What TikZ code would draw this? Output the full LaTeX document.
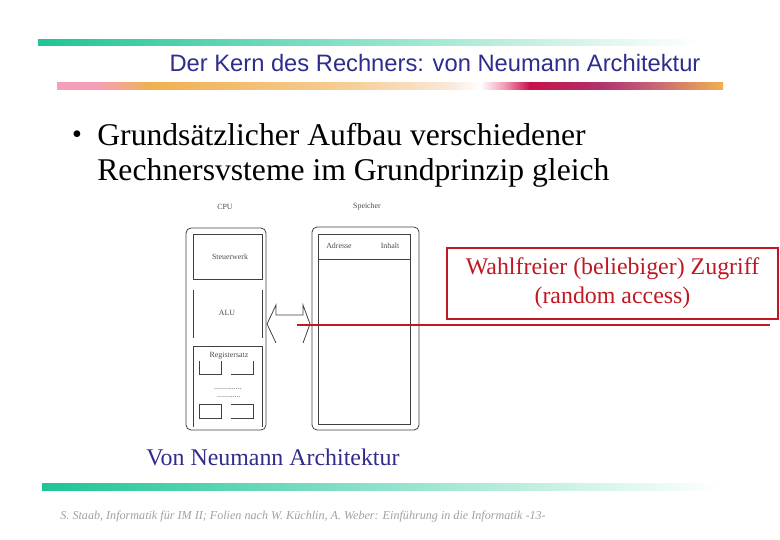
\documentclass[tikz,border=0pt]{standalone}
\usepackage{fontspec}
\setmainfont{Liberation Serif}
\newfontfamily\arialfont{Liberation Sans}
\usepackage{xcolor}
\usepackage{tikz}

\definecolor{titleblue}{RGB}{46,44,140}
\definecolor{barGreen}{RGB}{30,197,150}
\definecolor{barPink}{RGB}{244,160,184}
\definecolor{barOrange}{RGB}{240,176,80}
\definecolor{barOrangeLight}{RGB}{246,206,150}
\definecolor{barPeach}{RGB}{250,232,218}
\definecolor{barCrimson}{RGB}{200,16,74}
\definecolor{barPlum}{RGB}{176,50,110}
\definecolor{barMauve}{RGB}{196,96,120}
\definecolor{slideRed}{RGB}{192,24,34}
\definecolor{footGray}{RGB}{160,160,160}

\pgfdeclarehorizontalshading{greenbar}{100bp}{color(0bp)=(barGreen); color(25bp)=(barGreen);
  color(75bp)=(white); color(100bp)=(white)}
\pgfdeclarehorizontalshading{pinkbar}{100bp}{color(0bp)=(barPink); color(25bp)=(barPink);
  color(28bp)=(barPink); color(32bp)=(barOrange); color(47bp)=(barOrangeLight);
  color(54.5bp)=(barPeach); color(56.75bp)=(white); color(58.5bp)=(barPink);
  color(60.5bp)=(barCrimson); color(65.75bp)=(barPlum); color(69.5bp)=(barMauve);
  color(75bp)=(barOrange); color(100bp)=(barOrange)}

\begin{document}
\begin{tikzpicture}[x=0.02cm,y=-0.02cm,line width=0.45pt,
    font=\fontsize{13.6}{16.4}\selectfont]
\tikzstyle{unit}=[draw=black!75,rounded corners=0.1cm,inner sep=0pt]
\tikzstyle{part}=[draw=black!75,inner sep=0pt]
\tikzstyle{tiny}=[font=\fontsize{4.5}{5}\selectfont,text=black!70,inner sep=0pt]
\tikzstyle{wire}=[draw=black!75]

\useasboundingbox (0,0) rectangle (780,540);

% header and footer bars
\shade[shading=greenbar] (38,40) rectangle (700,46);
\shade[shading=pinkbar] (57,83) rectangle (723,90);
\shade[shading=greenbar] (42,483) rectangle (720,490);

\node (title) at (435,63) {\arialfont\fontsize{13.5}{16}\selectfont\color{titleblue}Der Kern des Rechners: von Neumann Architektur};

\node[inner sep=0pt] (bullet) at (77,137) {\fontsize{16}{18}\selectfont •};
\node[anchor=west,inner sep=0pt] (line1) at (97,135) {\fontsize{18}{22}\selectfont Grundsätzlicher Aufbau verschiedener};
\node[anchor=west,inner sep=0pt] (line2) at (97,173) {\fontsize{18}{22}\selectfont Rechnersvsteme im Grundprinzip gleich};

% CPU
\node[unit,minimum width=1.6cm,minimum height=4.04cm] (cpu) at (226,329) {};
\node[tiny] (cpulbl) at (225,207) {CPU};
\node[part,minimum width=1.38cm,minimum height=0.9cm] (steuer) at (227.5,256.5) {};
\node[tiny] (steuerlbl) at (230,257) {Steuerwerk};
\draw[wire] (193,290) -- (193,338);
\draw[wire] (262,290) -- (262,338);
\node[tiny] (alu) at (227,313) {ALU};
\draw[wire] (193,427) -- (193,346) -- (262,346) -- (262,427);
\node[tiny] (reglbl) at (229,356) {Registersatz};
\draw[wire] (199,361) -- (199,374) -- (221,374) -- (221,361);
\draw[wire] (231,374) -- (253,374) -- (253,361);
\node[tiny] (dots1) at (228,389) {..............};
\node[tiny] (dots2) at (229,397) {............};
\draw[wire] (199,404) rectangle (221,418);
\draw[wire] (231,404) -- (253,404) -- (253,418) -- (231,418);

% Speicher
\node[unit,minimum width=2.14cm,minimum height=4.06cm] (mem) at (365.5,328.5) {};
\node[tiny] (memlbl) at (367,207) {Speicher};
\draw[wire] (318,424) -- (318,234) -- (410,234) -- (410,424) -- cycle;
\draw[wire] (318,259) -- (410,259);
\node[tiny] (adr) at (339,246) {Adresse};
\node[tiny] (inh) at (390,246) {Inhalt};

% bus arrow
\coordinate (ltip) at (267,324);
\coordinate (rtip) at (310,324);
\draw[wire] (276,343) -- (ltip) -- (276,305) -- (276,315) -- (303,315) -- (303,305) -- (rtip) -- (303,343);

% random access
\node[draw=slideRed,text=slideRed,line width=0.7pt,minimum width=6.62cm,minimum height=1.42cm,align=center] (zugriff)
    at (612.5,283.5) {Wahlfreier (beliebiger) Zugriff\\(random access)};
\coordinate (rl) at (297,325);
\coordinate (rr) at (770,325);
\draw[slideRed,line width=0.8pt] (rl) -- (rr);

\node (caption) at (273,457) {\color{titleblue}Von Neumann Architektur};
\node[anchor=west,inner sep=0pt] (footer) at (60,517) {\fontsize{6.9}{8}\selectfont\itshape\color{footGray}S. Staab, Informatik für IM II; Folien nach W. Küchlin, A. Weber: Einführung in die Informatik -13-};
\end{tikzpicture}
\end{document}
